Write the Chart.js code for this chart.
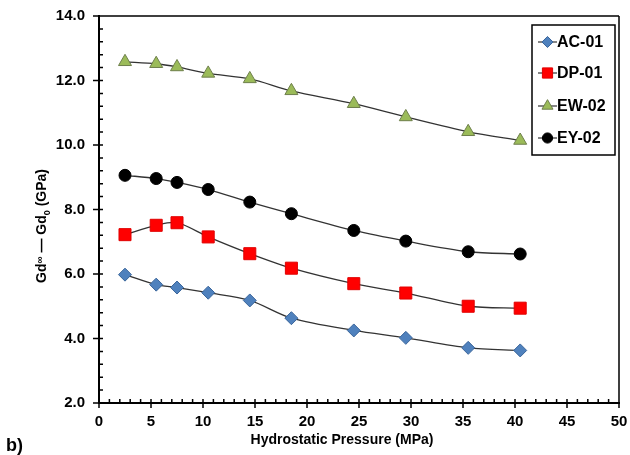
<!DOCTYPE html>
<html>
<head>
<meta charset="utf-8">
<script src="https://cdn.jsdelivr.net/npm/chart.js@4.4.1/dist/chart.umd.min.js"></script>
<style>
  html, body { margin: 0; padding: 0; background: #fff; }
  #wrap { width: 630px; height: 455px; position: relative; }
</style>
</head>
<body>
<div id="wrap"><canvas id="c"></canvas></div>
<script>
// ---- Data ----
const pressure = [2.5, 5.5, 7.5, 10.5, 14.5, 18.5, 24.5, 29.5, 35.5, 40.5];
const ac01 = [5.98, 5.67, 5.58, 5.42, 5.18, 4.63, 4.25, 4.02, 3.71, 3.63];
const dp01 = [7.22, 7.51, 7.59, 7.15, 6.63, 6.18, 5.70, 5.41, 5.00, 4.94];
const ew02 = [12.58, 12.52, 12.42, 12.22, 12.05, 11.68, 11.28, 10.87, 10.41, 10.14];
const ey02 = [9.06, 8.96, 8.84, 8.62, 8.23, 7.87, 7.35, 7.02, 6.69, 6.62];
const seriesNames = ['AC-01', 'DP-01', 'EW-02', 'EY-02'];
const xTickValues = [0, 5, 10, 15, 20, 25, 30, 35, 40, 45, 50];
const yTickValues = [2, 4, 6, 8, 10, 12, 14];
const xTitle = 'Hydrostatic Pressure (MPa)';
const panelLabel = 'b)';

const FONT = "'Liberation Sans', Arial, sans-serif";
const toPts = arr => arr.map((v, i) => ({ x: pressure[i], y: v }));

const styles = [
  { pointStyle: 'rectRot', radius: 6.5, bg: '#4F81BD', border: '#3A659A' },
  { pointStyle: 'rect', radius: 8.5, bg: '#FF0000', border: '#E00000' },
  { pointStyle: 'triangle', radius: 7.5, bg: '#9BBB59', border: '#6E7F4C' },
  { pointStyle: 'circle', radius: 6, bg: '#000000', border: '#000000' }
];
const seriesData = [ac01, dp01, ew02, ey02];

const datasets = seriesData.map((arr, i) => ({
  label: seriesNames[i],
  data: toPts(arr),
  borderColor: '#333333',
  borderWidth: 1.3,
  tension: 0.3,
  pointStyle: styles[i].pointStyle,
  pointRadius: styles[i].radius,
  pointHoverRadius: styles[i].radius,
  pointBackgroundColor: styles[i].bg,
  pointBorderColor: styles[i].border,
  pointBorderWidth: 1,
  fill: false
}));

const decorPlugin = {
  id: 'decor',
  afterDraw(chart) {
    const { ctx, chartArea: a, scales: { x, y } } = chart;
    ctx.save();
    ctx.strokeStyle = '#000';
    ctx.lineWidth = 1.5;
    ctx.beginPath();
    // top and right frame
    ctx.moveTo(a.left - 6, a.top); ctx.lineTo(a.right, a.top);
    ctx.moveTo(a.right, a.top); ctx.lineTo(a.right, a.bottom);
    // x ticks
    for (let v = 0; v <= 50; v++) {
      const px = x.getPixelForValue(v);
      if (v % 5 === 0) { ctx.moveTo(px, a.bottom - 4); ctx.lineTo(px, a.bottom + 5); }
      else { ctx.moveTo(px, a.bottom); ctx.lineTo(px, a.bottom - 4); }
    }
    // y ticks
    for (let i = 0; i <= 30; i++) {
      const v = 2 + i * 0.4;
      const py = y.getPixelForValue(v);
      if (i % 5 === 0) { ctx.moveTo(a.left - 6, py); ctx.lineTo(a.left + 4, py); }
      else { ctx.moveTo(a.left, py); ctx.lineTo(a.left + 4, py); }
    }
    ctx.stroke();

    // x title
    ctx.fillStyle = '#000';
    ctx.font = "bold 14px " + FONT;
    ctx.textAlign = 'center';
    ctx.textBaseline = 'middle';
    ctx.fillText(xTitle, 342, 440);

    // panel label
    ctx.font = "bold 18px " + FONT;
    ctx.textAlign = 'left';
    ctx.fillText(panelLabel, 6, 446);

    // y title (rotated, with super/subscript pieces)
    ctx.save();
    ctx.translate(41, 226);
    ctx.rotate(-Math.PI / 2);
    const pieces = [
      { t: 'Gd', size: 14, dy: 0 },
      { t: '\u221E', size: 10, dy: -3 },
      { t: ' \u2014 Gd', size: 14, dy: 0 },
      { t: '0', size: 9, dy: 4 },
      { t: ' (GPa)', size: 14, dy: 0 }
    ];
    let total = 0;
    pieces.forEach(p => { ctx.font = `bold ${p.size}px ${FONT}`; p.w = ctx.measureText(p.t).width; total += p.w; });
    let cx = -total / 2;
    ctx.textAlign = 'left';
    ctx.textBaseline = 'alphabetic';
    pieces.forEach(p => {
      ctx.font = `bold ${p.size}px ${FONT}`;
      ctx.fillText(p.t, cx, 5 + p.dy);
      cx += p.w;
    });
    ctx.restore();

    // legend box
    const lx = 532, ly = 25, lw = 83, lh = 130;
    ctx.fillStyle = '#fff';
    ctx.fillRect(lx, ly, lw, lh);
    ctx.lineWidth = 1.5;
    ctx.strokeStyle = '#000';
    ctx.strokeRect(lx, ly, lw, lh);
    const rows = [42, 73, 106, 138];
    chart.data.datasets.forEach((ds, i) => {
      const ry = rows[i];
      ctx.strokeStyle = '#333';
      ctx.lineWidth = 1.2;
      ctx.beginPath(); ctx.moveTo(538, ry); ctx.lineTo(557, ry); ctx.stroke();
      ctx.fillStyle = ds.pointBackgroundColor;
      ctx.strokeStyle = ds.pointBorderColor;
      ctx.lineWidth = 1;
      Chart.helpers.drawPoint(ctx, { pointStyle: ds.pointStyle, radius: ds.pointRadius * 0.85, rotation: 0, borderWidth: 1 }, 547.5, ry);
      ctx.fillStyle = '#000';
      ctx.font = "bold 16px " + FONT;
      ctx.textAlign = 'left';
      ctx.textBaseline = 'middle';
      ctx.fillText(ds.label, 557, ry + 1);
    });
    ctx.restore();
  }
};

new Chart(document.getElementById('c'), {
  type: 'line',
  data: { datasets },
  options: {
    responsive: true,
    maintainAspectRatio: false,
    animation: false,
    layout: { padding: { top: 16, right: 11, left: 0, bottom: 0 } },
    plugins: { legend: { display: false }, tooltip: { enabled: false } },
    scales: {
      x: {
        type: 'linear',
        min: 0, max: 50,
        afterBuildTicks: s => { s.ticks = xTickValues.map(v => ({ value: v })); },
        afterFit: s => { s.height = 52; s.paddingLeft = 0; s.paddingRight = 0; },
        grid: { display: false, drawTicks: false },
        border: { display: true, color: '#000', width: 2 },
        ticks: { color: '#000', padding: 10, font: { family: FONT, size: 15, weight: 'bold' }, maxRotation: 0, autoSkip: false }
      },
      y: {
        type: 'linear',
        min: 2, max: 14,
        afterBuildTicks: s => { s.ticks = yTickValues.map(v => ({ value: v })); },
        afterFit: s => { s.width = 99; s.paddingTop = 0; s.paddingBottom = 0; },
        grid: { display: false, drawTicks: false },
        border: { display: true, color: '#000', width: 2 },
        ticks: { color: '#000', padding: 14, font: { family: FONT, size: 15, weight: 'bold' }, callback: v => Number(v).toFixed(1) }
      }
    }
  },
  plugins: [decorPlugin]
});
</script>
</body>
</html>
